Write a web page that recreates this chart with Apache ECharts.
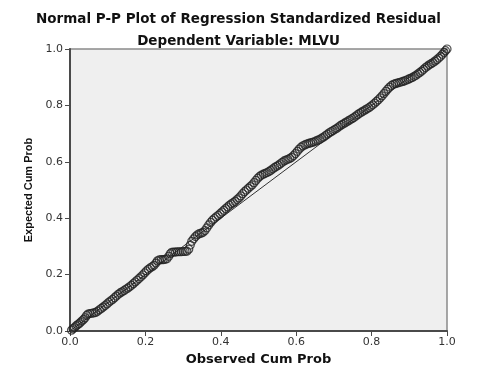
<!DOCTYPE html>
<html>
<head>
<meta charset="utf-8">
<script src="https://cdn.jsdelivr.net/npm/echarts@6/dist/echarts.min.js"></script>
<style>
  html, body { margin: 0; padding: 0; background: #fff; }
  #chart { width: 477px; height: 376px; }
</style>
</head>
<body>
<div id="chart"></div>
<script>
// observed cumulative probability (x) and expected cumulative probability (y)
const observedCum = [
  0.004, 0.008, 0.012, 0.016, 0.020, 0.024, 0.028, 0.032, 0.036, 0.040, 0.044, 0.048, 0.053, 0.058, 0.063, 0.068,
  0.073, 0.078, 0.083, 0.088, 0.093, 0.098, 0.103, 0.108, 0.113, 0.118, 0.123, 0.128, 0.133, 0.138, 0.143, 0.148,
  0.153, 0.158, 0.163, 0.168, 0.173, 0.178, 0.183, 0.188, 0.193, 0.198, 0.203, 0.208, 0.213, 0.218, 0.223, 0.228,
  0.232, 0.237, 0.242, 0.247, 0.252, 0.257, 0.262, 0.266, 0.270, 0.275, 0.280, 0.285, 0.290, 0.295, 0.300, 0.305,
  0.310, 0.315, 0.319, 0.323, 0.328, 0.333, 0.338, 0.343, 0.348, 0.353, 0.358, 0.363, 0.368, 0.373, 0.378, 0.383,
  0.388, 0.393, 0.398, 0.403, 0.408, 0.413, 0.418, 0.423, 0.428, 0.433, 0.438, 0.443, 0.448, 0.453, 0.458, 0.463,
  0.468, 0.473, 0.478, 0.483, 0.488, 0.493, 0.498, 0.503, 0.508, 0.513, 0.518, 0.523, 0.528, 0.533, 0.538, 0.543,
  0.548, 0.553, 0.558, 0.563, 0.568, 0.573, 0.578, 0.583, 0.588, 0.593, 0.598, 0.603, 0.608, 0.613, 0.618, 0.623,
  0.628, 0.633, 0.638, 0.643, 0.648, 0.653, 0.658, 0.663, 0.668, 0.673, 0.678, 0.683, 0.688, 0.693, 0.698, 0.703,
  0.708, 0.713, 0.718, 0.723, 0.728, 0.733, 0.738, 0.743, 0.748, 0.753, 0.758, 0.763, 0.768, 0.773, 0.778, 0.783,
  0.788, 0.793, 0.798, 0.803, 0.808, 0.813, 0.818, 0.823, 0.828, 0.833, 0.838, 0.843, 0.848, 0.853, 0.858, 0.863,
  0.868, 0.873, 0.878, 0.883, 0.888, 0.893, 0.898, 0.903, 0.908, 0.913, 0.918, 0.923, 0.928, 0.933, 0.938, 0.943,
  0.948, 0.953, 0.958, 0.963, 0.968, 0.973, 0.978, 0.983, 0.988, 0.992, 0.996, 1.000
];
const expectedCum = [
  0.003, 0.008, 0.012, 0.018, 0.022, 0.026, 0.031, 0.036, 0.041, 0.047, 0.055, 0.060, 0.062, 0.063, 0.064, 0.066,
  0.070, 0.075, 0.080, 0.085, 0.090, 0.096, 0.102, 0.107, 0.112, 0.118, 0.124, 0.130, 0.135, 0.139, 0.143, 0.148,
  0.152, 0.157, 0.162, 0.168, 0.174, 0.180, 0.186, 0.192, 0.199, 0.206, 0.213, 0.219, 0.224, 0.228, 0.233, 0.241,
  0.249, 0.252, 0.253, 0.253, 0.254, 0.256, 0.265, 0.274, 0.279, 0.280, 0.280, 0.281, 0.281, 0.281, 0.282, 0.282,
  0.283, 0.290, 0.305, 0.318, 0.327, 0.335, 0.341, 0.345, 0.347, 0.350, 0.356, 0.366, 0.376, 0.385, 0.393, 0.399,
  0.405, 0.410, 0.416, 0.422, 0.428, 0.434, 0.440, 0.446, 0.451, 0.455, 0.460, 0.466, 0.472, 0.479, 0.487, 0.494,
  0.500, 0.506, 0.512, 0.518, 0.526, 0.534, 0.542, 0.548, 0.553, 0.556, 0.559, 0.562, 0.566, 0.570, 0.575, 0.580,
  0.584, 0.588, 0.593, 0.598, 0.603, 0.606, 0.609, 0.612, 0.616, 0.622, 0.629, 0.637, 0.645, 0.652, 0.657, 0.660,
  0.663, 0.665, 0.667, 0.669, 0.671, 0.674, 0.677, 0.680, 0.684, 0.688, 0.693, 0.698, 0.703, 0.707, 0.711, 0.715,
  0.719, 0.724, 0.729, 0.733, 0.737, 0.741, 0.745, 0.749, 0.753, 0.757, 0.762, 0.767, 0.772, 0.776, 0.780, 0.784,
  0.788, 0.792, 0.797, 0.802, 0.808, 0.814, 0.820, 0.827, 0.834, 0.842, 0.850, 0.858, 0.865, 0.871, 0.875, 0.877,
  0.879, 0.881, 0.883, 0.885, 0.887, 0.890, 0.893, 0.896, 0.899, 0.903, 0.907, 0.912, 0.917, 0.922, 0.928, 0.934,
  0.939, 0.944, 0.948, 0.952, 0.957, 0.962, 0.968, 0.974, 0.981, 0.988, 0.994, 1.000
];
const axisTicks = [0, 0.2, 0.4, 0.6, 0.8, 1.0];
const referenceLine = [[0, 0], [1, 1]];

const chart = echarts.init(document.getElementById('chart'));

const points = observedCum.map((x, i) => [x, expectedCum[i]]);

const axisCommon = {
    type: 'value',
    min: axisTicks[0],
    max: axisTicks[axisTicks.length - 1],
    interval: 0.2,
    splitLine: { show: false },
    axisLine: { show: true, lineStyle: { color: '#4a4a4a', width: 2 } },
    axisTick: { show: true, length: 5, lineStyle: { color: '#4a4a4a', width: 1 } },
    axisLabel: {
        fontFamily: 'DejaVu Sans',
        fontSize: 11,
        color: '#333',
        formatter: v => v.toFixed(1)
    },
    nameLocation: 'middle'
};

const options = {
    animation: false,
    backgroundColor: '#fff',
    title: [
        {
            text: 'Normal P-P Plot of Regression Standardized Residual',
            left: 'center',
            top: 7,
            textStyle: { fontFamily: 'DejaVu Sans', fontWeight: 'bold', fontSize: 13.5, color: '#111' }
        },
        {
            text: 'Dependent Variable: MLVU',
            left: 'center',
            top: 29,
            textStyle: { fontFamily: 'DejaVu Sans', fontWeight: 'bold', fontSize: 13.5, color: '#111' }
        }
    ],
    grid: {
        left: 70,
        right: 30,
        top: 49,
        bottom: 45,
        show: true,
        backgroundColor: '#efefef',
        borderColor: '#8a8a8a',
        borderWidth: 1.5
    },
    xAxis: Object.assign({}, axisCommon, {
        name: 'Observed Cum Prob',
        nameGap: 22,
        nameTextStyle: { fontFamily: 'DejaVu Sans', fontWeight: 'bold', fontSize: 13, color: '#111' },
        axisLabel: Object.assign({}, axisCommon.axisLabel, { margin: 6 })
    }),
    yAxis: Object.assign({}, axisCommon, {
        name: 'Expected Cum Prob',
        nameGap: 35,
        nameTextStyle: { fontFamily: 'Liberation Sans', fontWeight: 'bold', fontSize: 11, color: '#111' },
        axisLabel: Object.assign({}, axisCommon.axisLabel, { margin: 7 })
    }),
    series: [
        {
            type: 'line',
            data: referenceLine,
            symbol: 'none',
            lineStyle: { color: '#333', width: 1 },
            z: 1
        },
        {
            type: 'scatter',
            data: points,
            symbol: 'circle',
            symbolSize: 8,
            itemStyle: { color: 'rgba(0,0,0,0)', borderColor: '#222', borderWidth: 1.2 },
            z: 2
        }
    ]
};

chart.setOption(options);
</script>
</body>
</html>
